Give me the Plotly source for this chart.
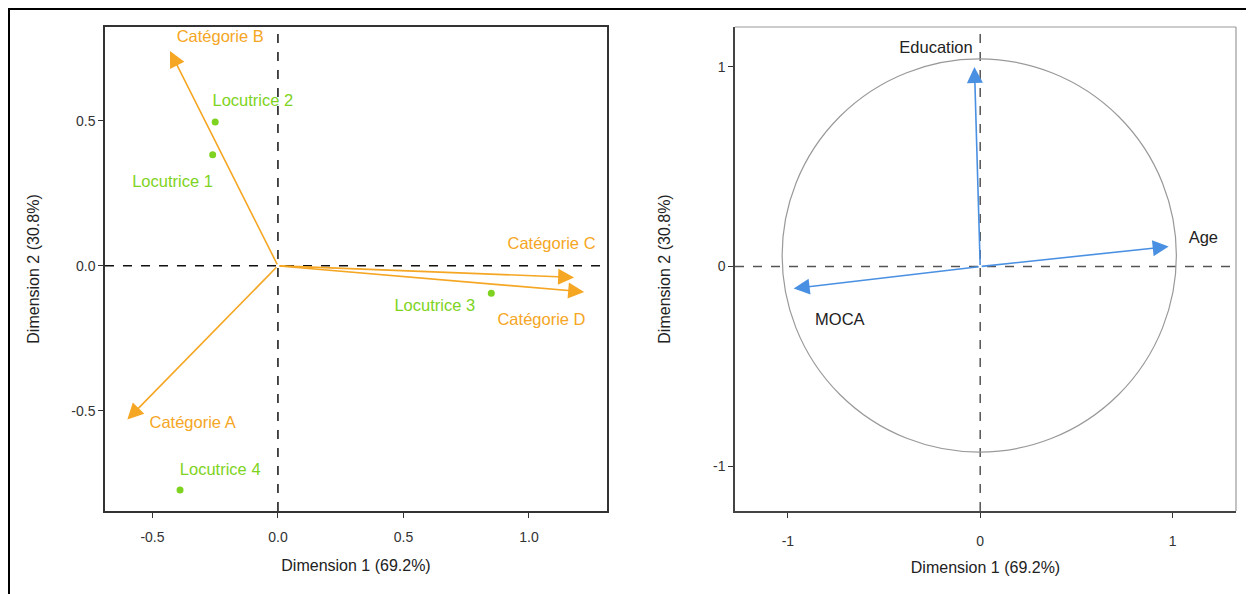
import plotly.graph_objects as go

# ---- Left panel data (biplot) ----
cat_names = ["Catégorie A", "Catégorie B", "Catégorie C", "Catégorie D"]
cat_x = [-0.60, -0.43, 1.18, 1.22]
cat_y = [-0.53, 0.74, -0.04, -0.09]
cat_label_x = [-0.34, -0.23, 1.09, 1.05]
cat_label_y = [-0.545, 0.785, 0.073, -0.19]

loc_names = ["Locutrice 1", "Locutrice 2", "Locutrice 3", "Locutrice 4"]
loc_x = [-0.26, -0.25, 0.85, -0.39]
loc_y = [0.383, 0.496, -0.095, -0.773]
loc_label_x = [-0.42, -0.10, 0.625, -0.23]
loc_label_y = [0.286, 0.565, -0.14, -0.708]

# ---- Right panel data (correlation circle) ----
var_names = ["Education", "Age", "MOCA"]
var_x = [-0.03, 0.98, -0.97]
var_y = [1.00, 0.10, -0.11]
var_label_x = [-0.23, 1.16, -0.73]
var_label_y = [1.09, 0.137, -0.27]

x_title = "Dimension 1 (69.2%)"
y_title = "Dimension 2 (30.8%)"

ORANGE = "#F5A623"
GREEN = "#7ED321"
BLUE = "#4A90E2"
FONT = "Liberation Sans, Arial, sans-serif"

# page has an 8px body margin; figure coordinates = page coordinates - 8
OFF = 8
W, H = 1254 - OFF, 594 - OFF
ML, MR, MT, MB = 105 - OFF, 18, 27 - OFF, 83
PW = W - ML - MR
PH = H - MT - MB

def px_x(p):
    return (p - OFF - ML) / PW

def px_y(p):
    return (H - MB - (p - OFF)) / PH

fig = go.Figure()

# left panel points
fig.add_trace(go.Scatter(x=loc_x, y=loc_y, mode="markers",
                         marker=dict(color=GREEN, size=7),
                         xaxis="x", yaxis="y", showlegend=False, hoverinfo="skip"))
fig.add_trace(go.Scatter(x=loc_label_x, y=loc_label_y, mode="text", text=loc_names,
                         textfont=dict(color=GREEN, size=16.5, family=FONT),
                         xaxis="x", yaxis="y", showlegend=False, hoverinfo="skip"))
fig.add_trace(go.Scatter(x=cat_label_x, y=cat_label_y, mode="text", text=cat_names,
                         textfont=dict(color=ORANGE, size=16.5, family=FONT),
                         xaxis="x", yaxis="y", showlegend=False, hoverinfo="skip"))

# right panel labels
fig.add_trace(go.Scatter(x=var_label_x, y=var_label_y, mode="text", text=var_names,
                         textfont=dict(color="#222222", size=16.5, family=FONT),
                         xaxis="x2", yaxis="y2", showlegend=False, hoverinfo="skip"))

annotations = []
for x, y in zip(cat_x, cat_y):
    annotations.append(dict(x=x, y=y, ax=0, ay=0, xref="x", yref="y", axref="x", ayref="y",
                            showarrow=True, arrowhead=2, arrowsize=2.0, arrowwidth=1.6,
                            arrowcolor=ORANGE, text=""))
for x, y in zip(var_x, var_y):
    annotations.append(dict(x=x, y=y, ax=0, ay=0, xref="x2", yref="y2", axref="x2", ayref="y2",
                            showarrow=True, arrowhead=2, arrowsize=2.0, arrowwidth=1.6,
                            arrowcolor=BLUE, text=""))

shapes = [
    # left panel reference lines
    dict(type="line", xref="x", yref="y domain", x0=0, x1=0, y0=0, y1=1,
         line=dict(color="#111111", width=1.5, dash="dash"), layer="below"),
    dict(type="line", xref="x domain", yref="y", x0=0, x1=1, y0=0, y1=0,
         line=dict(color="#111111", width=1.5, dash="dash"), layer="below"),
    # right panel reference lines
    dict(type="line", xref="x2", yref="y2 domain", x0=0, x1=0, y0=0, y1=1,
         line=dict(color="#555555", width=1.5, dash="dash"), layer="below"),
    dict(type="line", xref="x2 domain", yref="y2", x0=0, x1=1, y0=0, y1=0,
         line=dict(color="#555555", width=1.5, dash="dash"), layer="below"),
    # correlation circle
    dict(type="circle", xref="x2", yref="y2", x0=-1.03, x1=1.02, y0=-0.93, y1=1.04,
         line=dict(color="#999999", width=1.2), layer="below"),
    # right panel top/right light frame
    dict(type="line", xref="x2 domain", yref="y2 domain", x0=0, x1=1, y0=1, y1=1,
         line=dict(color="#9a9a9a", width=1.2)),
    dict(type="line", xref="x2 domain", yref="y2 domain", x0=1, x1=1, y0=0, y1=1,
         line=dict(color="#9a9a9a", width=1.2)),
    # outer screenshot frame
    dict(type="line", xref="paper", yref="paper", x0=px_x(9), x1=px_x(1262), y0=px_y(9), y1=px_y(9),
         line=dict(color="#000000", width=2)),
    dict(type="line", xref="paper", yref="paper", x0=px_x(9), x1=px_x(9), y0=px_y(8), y1=px_y(600),
         line=dict(color="#000000", width=2)),
]

axis_common = dict(showgrid=False, zeroline=False, ticks="outside", ticklen=5, tickwidth=1,
                   tickcolor="#333333", tickfont=dict(size=14, color="#333333", family=FONT),
                   title_font=dict(size=16, color="#222222", family=FONT))

fig.update_layout(
    width=W, height=H,
    margin=dict(l=ML, r=MR, t=MT, b=MB),
    paper_bgcolor="white", plot_bgcolor="white",
    font=dict(family=FONT),
    xaxis=dict(domain=[0, px_x(607)], range=[-0.689, 1.311], tickvals=[-0.5, 0, 0.5, 1.0],
               ticktext=["-0.5", "0.0", "0.5", "1.0"], showline=True, mirror=True,
               linecolor="#333333", linewidth=1.5, title=dict(text=x_title, standoff=16),
               ticklabelstandoff=7, anchor="y", **axis_common),
    yaxis=dict(domain=[0, 1], range=[-0.845, 0.823], tickvals=[-0.5, 0, 0.5],
               ticktext=["-0.5", "0.0", "0.5"], showline=True, mirror=True,
               linecolor="#333333", linewidth=1.5, title=dict(text=y_title, standoff=28),
               anchor="x", **axis_common),
    xaxis2=dict(domain=[px_x(735), 1], range=[-1.275, 1.33], tickvals=[-1, 0, 1],
                ticktext=["-1", "0", "1"], showline=True, mirror=False,
                linecolor="#444444", linewidth=1.5, title=dict(text=x_title, standoff=14),
                ticklabelstandoff=11, anchor="y2", **axis_common),
    yaxis2=dict(domain=[0, 1], range=[-1.225, 1.20], tickvals=[-1, 0, 1],
                ticktext=["-1", "0", "1"], showline=True, mirror=False,
                linecolor="#444444", linewidth=1.5, title=dict(text=y_title, standoff=38),
                anchor="x2", **axis_common),
    annotations=annotations,
    shapes=shapes,
)

fig.write_html("out.html")
